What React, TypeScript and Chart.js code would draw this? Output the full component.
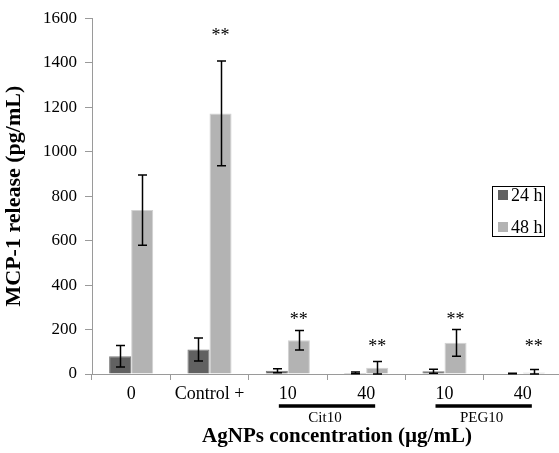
import React, { useEffect, useRef } from 'react';
import { Chart, registerables } from 'chart.js';

Chart.register(...registerables);

const categories = ['0', 'Control +', '10', '40', '10', '40'];
const mean24 = [80, 110, 15, 5, 12, 2];
const err24 = [48, 52, 9, 4, 9, 1];
const mean48 = [737, 1172, 152, 28, 140, 7];
const err48 = [158, 236, 44, 28, 60, 13];
const marks48 = ['', '**', '**', '**', '**', '**'];
const markLevels = [0, 1524, 246, 125, 246, 125];
const groupNames = ['Cit10', 'PEG10'];
const groupStarts = [2, 4];
const groupEnds = [3, 5];
const seriesNames = ['24 h', '48 h'];
const seriesColors = ['#616161', '#b3b3b3'];
const xTitle = 'AgNPs concentration (µg/mL)';
const yTitle = 'MCP-1 release (pg/mL)';

const FONT = "'Liberation Serif', 'Times New Roman', serif";

const errorBarPlugin = {
  id: 'errorBars',
  afterDatasetsDraw(chart: any) {
    const { ctx, scales } = chart;
    const y = scales.y;
    const errs = [err24, err48];
    const means = [mean24, mean48];
    ctx.save();
    ctx.strokeStyle = '#000';
    ctx.lineWidth = 1.5;
    for (let d = 0; d < 2; d++) {
      const meta = chart.getDatasetMeta(d);
      meta.data.forEach((el: any, i: number) => {
        const m = means[d][i];
        const e = errs[d][i];
        const top = y.getPixelForValue(m + e);
        const bot = y.getPixelForValue(Math.max(0, m - e));
        const x = Math.round(el.x) + 0.5;
        ctx.beginPath();
        ctx.moveTo(x, top);
        ctx.lineTo(x, bot);
        ctx.moveTo(x - 4.5, top);
        ctx.lineTo(x + 4.5, top);
        ctx.moveTo(x - 4.5, bot);
        ctx.lineTo(x + 4.5, bot);
        ctx.stroke();
      });
    }
    const meta = chart.getDatasetMeta(1);
    ctx.fillStyle = '#000';
    ctx.font = `18px ${FONT}`;
    ctx.textAlign = 'center';
    ctx.textBaseline = 'alphabetic';
    meta.data.forEach((el: any, i: number) => {
      if (!marks48[i]) return;
      const yy = y.getPixelForValue(markLevels[i]);
      ctx.fillText(marks48[i], el.x, yy + 6);
    });
    ctx.restore();
  },
};

const decorPlugin = {
  id: 'decor',
  afterDraw(chart: any) {
    const { ctx, scales } = chart;
    const x = scales.x;
    ctx.save();
    for (let g = 0; g < groupNames.length; g++) {
      ctx.font = `18px ${FONT}`;
      const s = groupStarts[g];
      const e = groupEnds[g];
      const cs = x.getPixelForValue(s);
      const ce = x.getPixelForValue(e);
      const x1 = cs - ctx.measureText(categories[s]).width / 2;
      const x2 = ce + ctx.measureText(categories[e]).width / 2;
      ctx.strokeStyle = '#000';
      ctx.lineWidth = 3.5;
      ctx.beginPath();
      ctx.moveTo(x1, 406);
      ctx.lineTo(x2, 406);
      ctx.stroke();
      ctx.font = `15px ${FONT}`;
      ctx.fillStyle = '#000';
      ctx.textAlign = 'center';
      ctx.textBaseline = 'middle';
      ctx.fillText(groupNames[g], (cs + ce) / 2 - 2, 418);
    }
    // x axis title
    ctx.font = `bold 21px ${FONT}`;
    ctx.fillStyle = '#000';
    ctx.textAlign = 'center';
    ctx.textBaseline = 'middle';
    ctx.fillText(xTitle, 337, 437);
    // legend
    ctx.strokeStyle = '#000';
    ctx.lineWidth = 1;
    ctx.strokeRect(492.5, 186.5, 52, 50);
    ctx.font = `18px ${FONT}`;
    ctx.textAlign = 'left';
    ctx.textBaseline = 'middle';
    for (let i = 0; i < 2; i++) {
      const cy = 195 + i * 32;
      ctx.fillStyle = seriesColors[i];
      ctx.fillRect(498, cy - 5, 10, 10);
      ctx.fillStyle = '#000';
      ctx.fillText(seriesNames[i], 511, cy + 1);
    }
    ctx.restore();
  },
};

export default function App() {
  const ref = useRef<HTMLCanvasElement>(null);
  useEffect(() => {
    document.body.style.overflow = 'hidden';
    const chart = new Chart(ref.current as HTMLCanvasElement, {
      type: 'bar',
      data: {
        labels: categories,
        datasets: [
          {
            label: seriesNames[0],
            data: mean24,
            backgroundColor: seriesColors[0],
            borderColor: '#7a7a7a',
            borderWidth: 1,
          },
          {
            label: seriesNames[1],
            data: mean48,
            backgroundColor: seriesColors[1],
            borderColor: '#d2d2d2',
            borderWidth: 1,
          },
        ],
      },
      options: {
        animation: false,
        responsive: true,
        maintainAspectRatio: false,
        layout: { padding: { top: 16, left: 0, right: 0, bottom: 0 } },
        plugins: { legend: { display: false }, tooltip: { enabled: false } },
        datasets: { bar: { barPercentage: 1, categoryPercentage: 0.563 } },
        scales: {
          x: {
            grid: { drawOnChartArea: false, drawTicks: true, tickLength: 6, color: '#9a9a9a', offset: true },
            border: { color: '#9a9a9a', width: 1 },
            ticks: { color: '#000', font: { family: FONT, size: 18 }, padding: 3, maxRotation: 0, autoSkip: false },
            afterFit(scale: any) {
              scale.height = 79;
            },
          },
          y: {
            min: 0,
            max: 1600,
            ticks: {
              stepSize: 200,
              color: '#000',
              font: { family: FONT, size: 17 },
              padding: 8,
              callback: (v: any) => String(v),
            },
            grid: { drawOnChartArea: false, drawTicks: true, tickLength: 7, color: '#9a9a9a' },
            border: { color: '#9a9a9a', width: 1 },
            title: {
              display: true,
              text: yTitle,
              color: '#000',
              font: { family: FONT, size: 22, weight: 'bold' },
              padding: { top: 1, bottom: 0 },
            },
            afterFit(scale: any) {
              scale.width = 92;
            },
          },
        },
      },
      plugins: [errorBarPlugin, decorPlugin],
    });
    return () => chart.destroy();
  }, []);
  return (
    <div style={{ position: 'fixed', left: 0, top: 0, width: 562, height: 453 }}>
      <canvas ref={ref} />
    </div>
  );
}
